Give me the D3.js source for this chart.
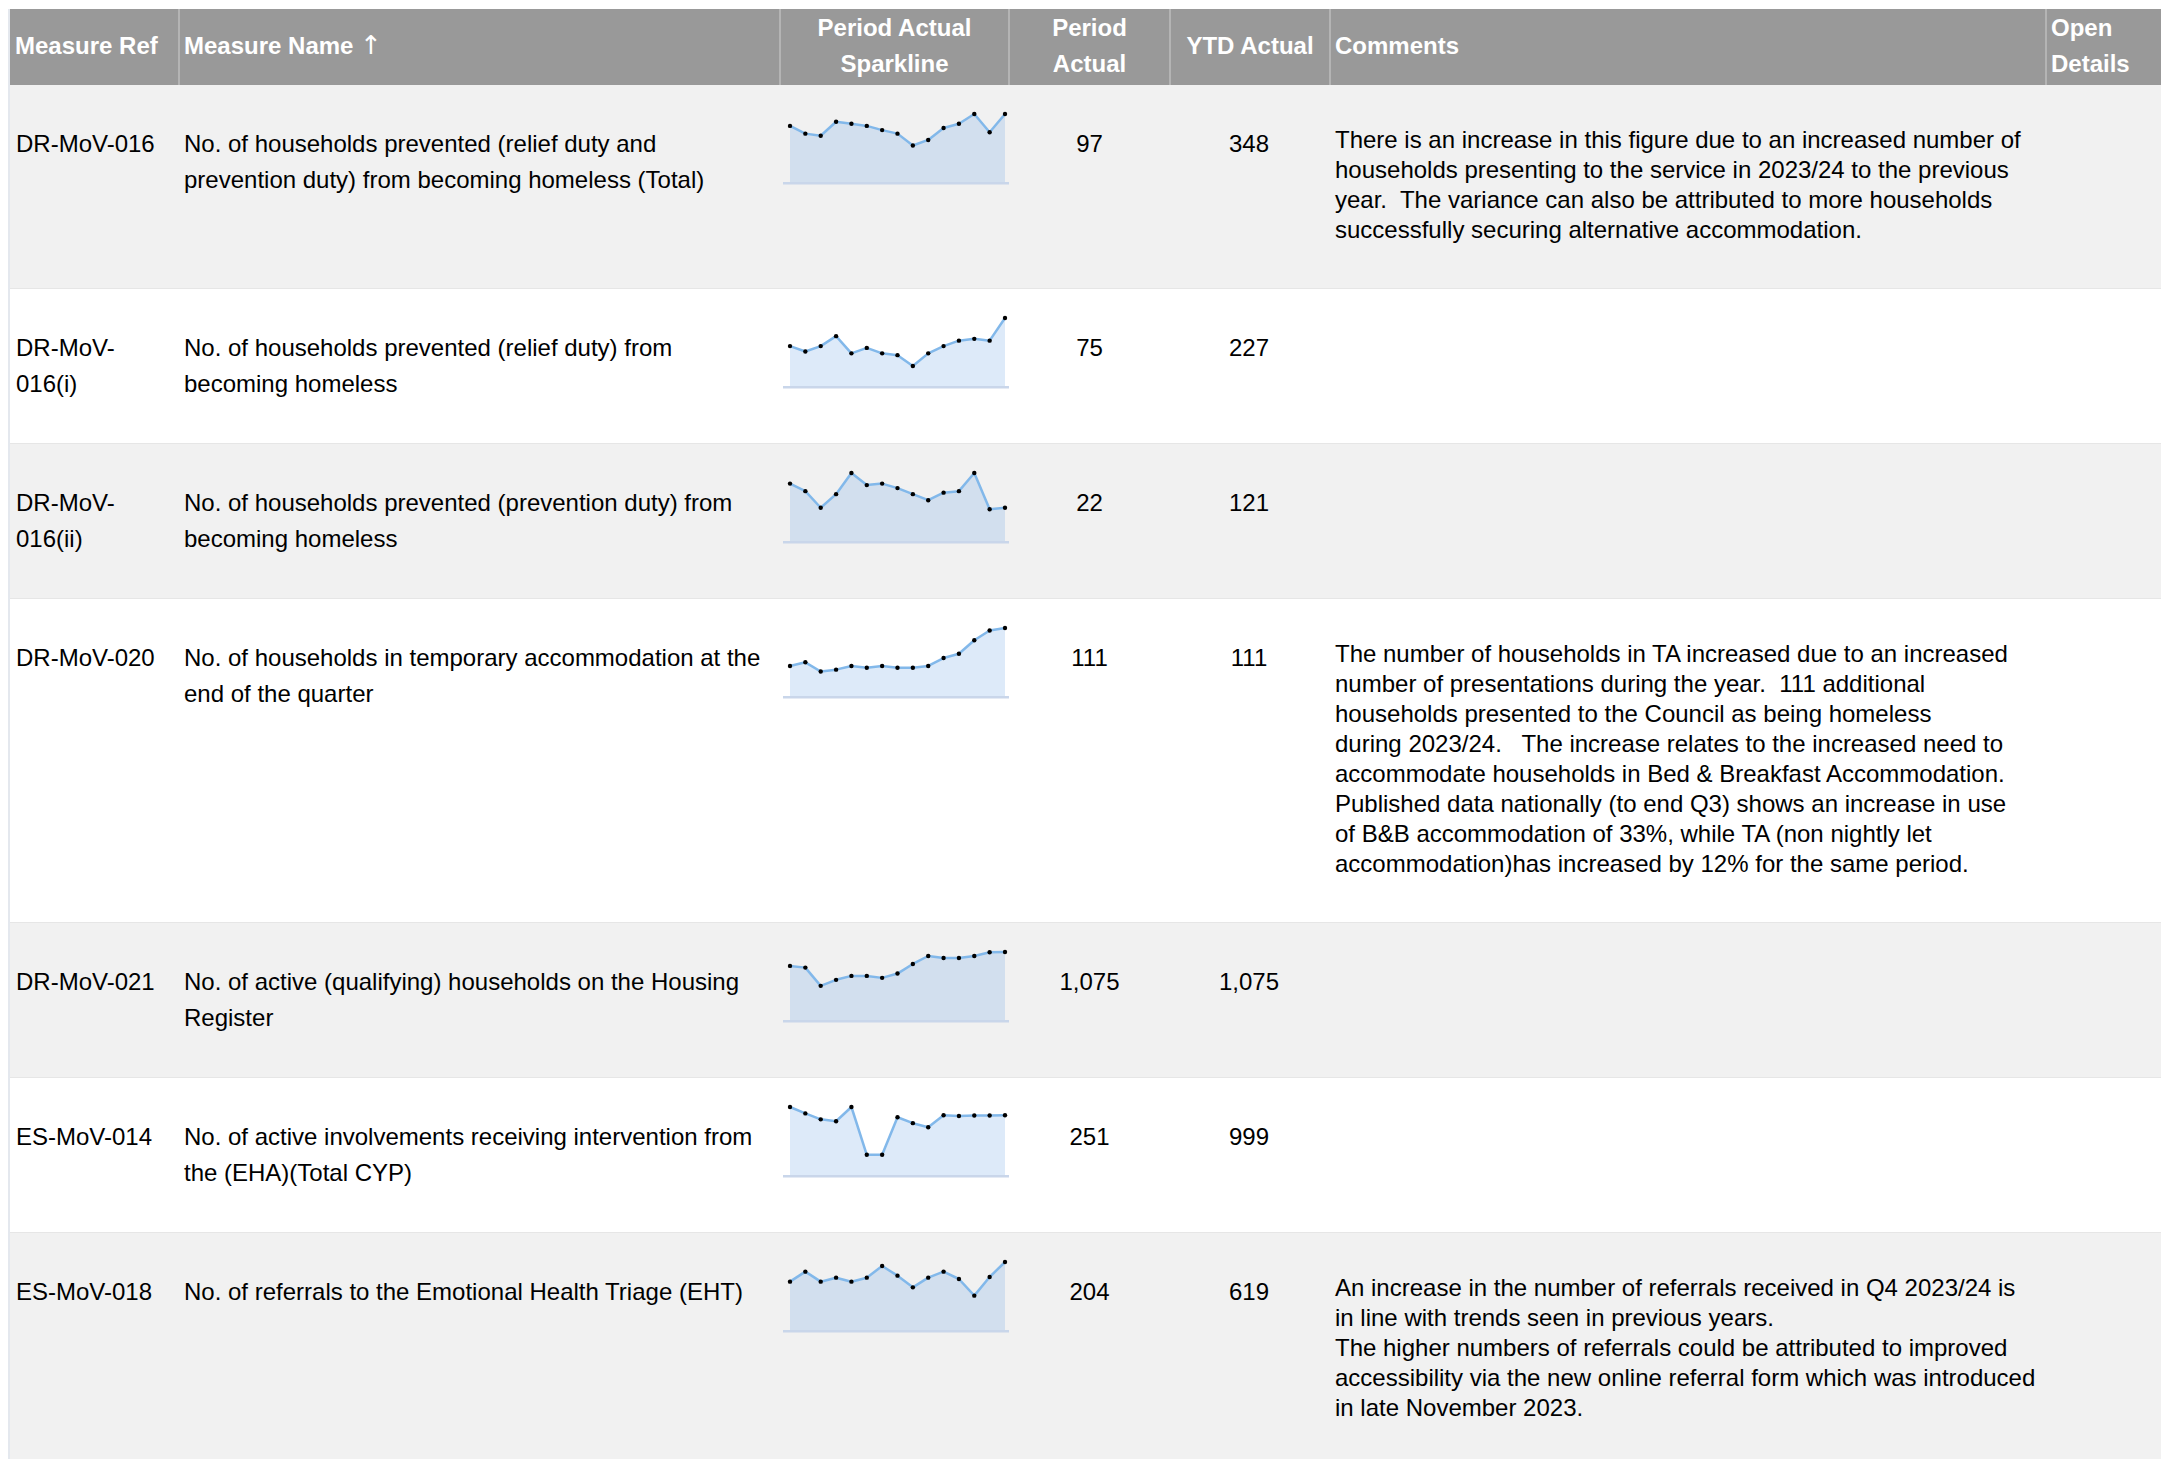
<!DOCTYPE html>
<html>
<head>
<meta charset="utf-8">
<script src="https://cdn.jsdelivr.net/npm/d3@7/dist/d3.min.js"></script>
<style>
  html, body { margin: 0; padding: 0; background: #ffffff; }
  svg { display: block; }
  text { font-family: Arial, "Liberation Sans", sans-serif; white-space: pre; }
</style>
</head>
<body>
<svg id="chart" width="2161" height="1459"></svg>
<script>
// ---------- DATA ----------
const headers = [
  ["Measure Ref"], ["Measure Name "], ["Period Actual", "Sparkline"],
  ["Period", "Actual"], ["YTD Actual"], ["Comments"], ["Open", "Details"]
];
const sortArrow = "\u2191";
const measureRefs = [
  ["DR-MoV-016"], ["DR-MoV-", "016(i)"], ["DR-MoV-", "016(ii)"],
  ["DR-MoV-020"], ["DR-MoV-021"], ["ES-MoV-014"], ["ES-MoV-018"]
];
const measureNames = [
  ["No. of households prevented (relief duty and", "prevention duty) from becoming homeless (Total)"],
  ["No. of households prevented (relief duty) from", "becoming homeless"],
  ["No. of households prevented (prevention duty) from", "becoming homeless"],
  ["No. of households in temporary accommodation at the", "end of the quarter"],
  ["No. of active (qualifying) households on the Housing", "Register"],
  ["No. of active involvements receiving intervention from", "the (EHA)(Total CYP)"],
  ["No. of referrals to the Emotional Health Triage (EHT)"]
];
const periodActual = [97, 75, 22, 111, 1075, 251, 204];
const ytdActual = [348, 227, 121, 111, 1075, 999, 619];
const comments = [
  ["There is an increase in this figure due to an increased number of",
   "households presenting to the service in 2023/24 to the previous",
   "year.  The variance can also be attributed to more households",
   "successfully securing alternative accommodation."],
  [], [],
  ["The number of households in TA increased due to an increased",
   "number of presentations during the year.  111 additional",
   "households presented to the Council as being homeless",
   "during 2023/24.   The increase relates to the increased need to",
   "accommodate households in Bed & Breakfast Accommodation.",
   "Published data nationally (to end Q3) shows an increase in use",
   "of B&B accommodation of 33%, while TA (non nightly let",
   "accommodation)has increased by 12% for the same period."],
  [], [],
  ["An increase in the number of referrals received in Q4 2023/24 is",
   "in line with trends seen in previous years.",
   "The higher numbers of referrals could be attributed to improved",
   "accessibility via the new online referral form which was introduced",
   "in late November 2023."]
];
// Sparkline series (quarterly period actuals)
const sparkTotal      = [80, 69, 66, 86, 83, 80, 74, 69, 52, 60, 77, 83, 97, 71, 97];
const sparkRelief     = [44, 38, 44, 55, 36, 42, 36, 34, 22, 36, 44, 50, 52, 50, 75];
const sparkPrevention = [38, 33, 22, 31, 45, 37, 38, 35, 31, 27, 32, 33, 45, 21, 22];
const sparkTA         = [49, 55, 40, 43, 49, 46, 49, 46, 46, 49, 62, 69, 91, 107, 111];
const sparkRegister   = [855, 828, 540, 635, 697, 697, 666, 734, 886, 1012, 981, 981, 1012, 1071, 1075];
const sparkEHA        = [286, 259, 234, 226, 286, 85, 85, 243, 218, 201, 251, 248, 250, 250, 251];
const sparkEHT        = [145, 175, 145, 157, 145, 157, 192, 163, 128, 157, 175, 153, 103, 159, 204];
const sparklines = [sparkTotal, sparkRelief, sparkPrevention, sparkTA, sparkRegister, sparkEHA, sparkEHT];

// ---------- LAYOUT ----------
const svg = d3.select("#chart");
const W = 2161, H = 1459;
const colEdges = [10, 179, 780, 1009, 1170, 1330, 2046, 2161];
const headerTop = 9, headerBottom = 85;
const FS = 24;
const nameLH = 36, commentLH = 30;
const fmt = d3.format(",");

// Header
svg.append("rect").attr("x", colEdges[0]).attr("y", headerTop)
  .attr("width", W - colEdges[0]).attr("height", headerBottom - headerTop)
  .attr("fill", "#999999");
colEdges.slice(1, 7).forEach(x => {
  svg.append("line").attr("x1", x).attr("x2", x).attr("y1", headerTop).attr("y2", headerBottom)
    .attr("stroke", "#cfcfcf").attr("stroke-width", 1);
});
const headerAlign = ["start", "start", "middle", "middle", "middle", "start", "start"];
headers.forEach((lines, i) => {
  const x0 = colEdges[i], x1 = colEdges[i + 1];
  const anchor = headerAlign[i];
  const x = anchor === "middle" ? (x0 + x1) / 2 : x0 + 5;
  const firstBase = lines.length === 1 ? 54 : 36;
  const t = svg.append("text").attr("x", x).attr("y", firstBase)
    .attr("text-anchor", anchor).attr("font-size", FS).attr("font-weight", "bold").attr("fill", "#ffffff");
  lines.forEach((l, j) => t.append("tspan").attr("x", x).attr("y", firstBase + j * nameLH).text(l));
  if (i === 1) {
    t.append("tspan").attr("font-weight", "normal").attr("font-size", 26)
      .attr("font-family", "'DejaVu Sans', sans-serif").text(sortArrow);
  }
});

// Rows
let rowTop = headerBottom;
const xSpark = d3.scaleLinear().domain([0, 14]).range([790, 1005]);

measureRefs.forEach((ref, r) => {
  const nLines = Math.max(ref.length, measureNames[r].length);
  const h = Math.max(nLines * nameLH + 83, comments[r].length * commentLH + 84);
  const bg = r % 2 === 0 ? "#f1f1f1" : "#ffffff";
  svg.append("rect").attr("x", colEdges[0]).attr("y", rowTop).attr("width", W - colEdges[0]).attr("height", h)
    .attr("fill", bg);
  svg.append("line").attr("x1", colEdges[0]).attr("x2", W).attr("y1", rowTop + h - 0.5).attr("y2", rowTop + h - 0.5)
    .attr("stroke", "#e6e6e6").attr("stroke-width", 1);

  const base = rowTop + 66.5;
  const tRef = svg.append("text").attr("font-size", FS).attr("fill", "#000");
  ref.forEach((l, j) => tRef.append("tspan").attr("x", 16).attr("y", base + j * nameLH).text(l));
  const tName = svg.append("text").attr("font-size", FS).attr("fill", "#000");
  measureNames[r].forEach((l, j) => tName.append("tspan").attr("x", 184).attr("y", base + j * nameLH).text(l));
  svg.append("text").attr("x", (colEdges[3] + colEdges[4]) / 2).attr("y", base)
    .attr("text-anchor", "middle").attr("font-size", FS).text(fmt(periodActual[r]));
  svg.append("text").attr("x", (colEdges[4] + colEdges[5]) / 2 - 1).attr("y", base)
    .attr("text-anchor", "middle").attr("font-size", FS).text(fmt(ytdActual[r]));
  const tCom = svg.append("text").attr("font-size", FS).attr("fill", "#000");
  comments[r].forEach((l, j) => tCom.append("tspan").attr("x", 1335).attr("y", rowTop + 62.5 + j * commentLH).text(l));

  // Sparkline
  const vals = sparklines[r];
  const y = d3.scaleLinear().domain([0, d3.max(vals)]).range([rowTop + 97, rowTop + 29]);
  const area = d3.area().x((d, i) => xSpark(i)).y0(y(0)).y1(d => y(d));
  const line = d3.line().x((d, i) => xSpark(i)).y(d => y(d));
  const g = svg.append("g");
  g.append("path").datum(vals).attr("d", area).attr("fill", "rgb(120,170,230)").attr("fill-opacity", 0.25);
  g.append("rect").attr("x", 783).attr("y", y(0)).attr("width", 1009 - 783).attr("height", 2.5)
    .attr("fill", "#c9d6ea");
  g.append("path").datum(vals).attr("d", line).attr("fill", "none")
    .attr("stroke", "#82b8ea").attr("stroke-width", 2.5).attr("stroke-linejoin", "round");
  g.selectAll("circle").data(vals).join("circle")
    .attr("cx", (d, i) => xSpark(i)).attr("cy", d => y(d)).attr("r", 2.2).attr("fill", "#000");

  rowTop += h;
});

// Left border
svg.append("rect").attr("x", 8).attr("y", headerTop).attr("width", 2).attr("height", H - headerTop)
  .attr("fill", "#e4e8ee");
</script>
</body>
</html>
